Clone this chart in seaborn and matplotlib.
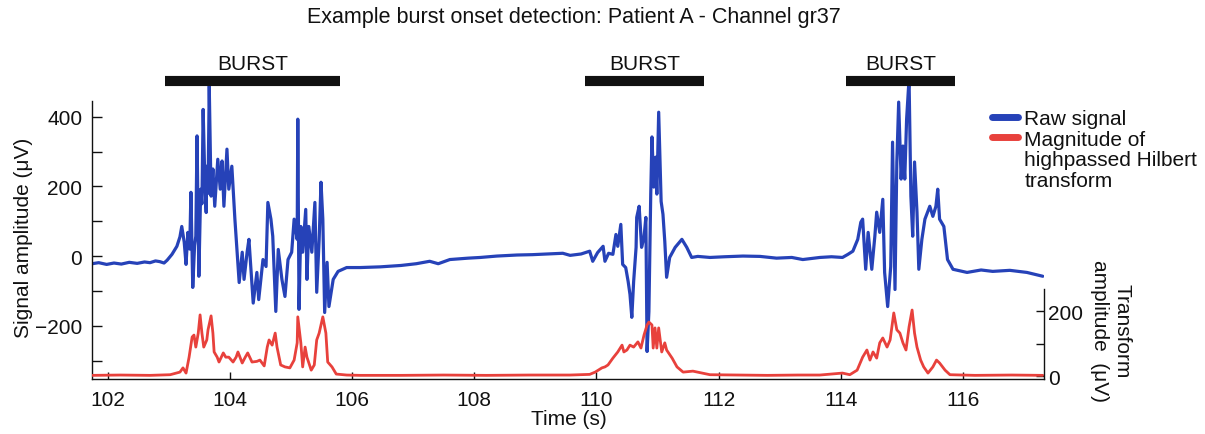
import numpy as np
import pandas as pd
import matplotlib
matplotlib.use("Agg")
import matplotlib.pyplot as plt
import matplotlib.transforms as mtransforms
from matplotlib.lines import Line2D
import seaborn as sns

# ---------------- data ----------------
raw_t = [101.74, 101.85, 101.98, 102.10, 102.22, 102.35, 102.48, 102.60, 102.69, 102.78,
         102.85, 102.92, 102.97, 103.05, 103.13, 103.18, 103.21, 103.25, 103.28, 103.31,
         103.34, 103.36, 103.39, 103.42, 103.44, 103.46, 103.49, 103.52, 103.54, 103.56,
         103.59, 103.61, 103.62, 103.64, 103.66, 103.69, 103.72, 103.75, 103.80, 103.84,
         103.87, 103.90, 103.95, 103.98, 104.03, 104.08, 104.11, 104.15, 104.20, 104.23,
         104.28, 104.31, 104.34, 104.38, 104.44, 104.47, 104.54, 104.59, 104.62, 104.67,
         104.70, 104.75, 104.79, 104.85, 104.90, 104.95, 105.01, 105.05, 105.10, 105.11,
         105.13, 105.16, 105.19, 105.24, 105.26, 105.29, 105.34, 105.39, 105.42, 105.46,
         105.49, 105.52, 105.55, 105.59, 105.62, 105.69, 105.77, 105.91, 106.13, 106.46,
         106.80, 107.05, 107.27, 107.41, 107.60, 107.90, 108.10, 108.37, 108.70, 108.95,
         109.20, 109.45, 109.57, 109.75, 109.89, 109.94, 110.02, 110.11, 110.14, 110.20,
         110.27, 110.32, 110.35, 110.40, 110.43, 110.48, 110.52, 110.55, 110.58, 110.61,
         110.65, 110.66, 110.70, 110.74, 110.78, 110.81, 110.83, 110.86, 110.89, 110.91,
         110.94, 110.97, 110.99, 111.02, 111.06, 111.09, 111.12, 111.15, 111.20, 111.29,
         111.40, 111.48, 111.56, 111.66, 111.86, 112.10, 112.40, 112.68, 112.95, 113.20,
         113.38, 113.66, 113.85, 114.03, 114.12, 114.20, 114.28, 114.33, 114.36, 114.41,
         114.45, 114.51, 114.56, 114.59, 114.64, 114.69, 114.72, 114.77, 114.82, 114.85,
         114.89, 114.92, 114.95, 114.99, 115.02, 115.05, 115.08, 115.12, 115.15, 115.18,
         115.21, 115.25, 115.28, 115.33, 115.38, 115.46, 115.51, 115.56, 115.59, 115.62,
         115.69, 115.75, 115.84, 116.07, 116.30, 116.49, 116.77, 117.05, 117.31]
raw_v = [-22, -19, -24, -20, -23, -18, -21, -17, -19, -14,
         -16, -20, -12, 5, 28, 55, 85, 40, -24, 68,
         20, 183, -90, 30, 57, 345, -58, 192, 150, 421,
         200, 125, 258, 180, 488, 172, 250, 143, 278, 192,
         273, 143, 307, 192, 258, 106, 28, -76, 11, -67,
         11, 48, -30, -135, -47, -125, -10, -30, 154, 106,
         57, -159, 19, -67, -116, -10, 11, 106, 48, 393,
         -153, 85, 11, 134, -67, 85, 11, 154, -104, 48,
         212, 106, -162, -18, -145, -67, -44, -33, -33, -31,
         -27, -22, -15, -22, -10, -6, -4, 0, 3, 4,
         6, 8, 2, 6, 14, -15, 10, 28, -15, 8,
         5, 62, 28, 91, -24, -33, -73, -110, -176, -73,
         25, 111, 143, 25, 54, 111, -274, -159, 178, 342,
         198, 284, 178, 413, 157, 120, 42, -61, -4, 25,
         48, 25, -4, -1, -4, -2, 0, -1, -6, -4,
         -10, -4, -2, -4, 5, 14, 48, 97, 106, -38,
         68, -38, 57, 126, 68, 163, -47, -145, -30, 327,
         -96, 270, 442, 221, 316, 221, 393, 509, 172, 57,
         270, 126, -38, 48, 106, 143, 114, 143, 192, 106,
         85, -10, -38, -47, -40, -44, -41, -47, -58]

hil_t = [101.74, 102.20, 102.69, 103.02, 103.18, 103.23, 103.28, 103.33, 103.38, 103.41,
         103.44, 103.48, 103.51, 103.54, 103.57, 103.62, 103.64, 103.69, 103.72, 103.74,
         103.79, 103.82, 103.89, 103.93, 103.98, 104.05, 104.10, 104.13, 104.20, 104.25,
         104.29, 104.36, 104.44, 104.49, 104.56, 104.61, 104.64, 104.69, 104.74, 104.77,
         104.83, 104.90, 104.98, 105.05, 105.10, 105.11, 105.16, 105.19, 105.23, 105.26,
         105.33, 105.38, 105.42, 105.46, 105.52, 105.57, 105.60, 105.67, 105.74, 105.91,
         106.13, 106.80, 107.50, 108.20, 108.90, 109.57, 109.89, 109.98, 110.09, 110.14,
         110.19, 110.27, 110.35, 110.42, 110.45, 110.50, 110.55, 110.61, 110.68, 110.73,
         110.78, 110.83, 110.86, 110.91, 110.93, 110.96, 110.99, 111.02, 111.07, 111.12,
         111.15, 111.24, 111.32, 111.42, 111.58, 111.86, 112.30, 112.80, 113.30, 113.66,
         114.03, 114.15, 114.27, 114.36, 114.43, 114.48, 114.53, 114.59, 114.64, 114.69,
         114.76, 114.81, 114.87, 114.92, 114.97, 115.02, 115.07, 115.12, 115.17, 115.21,
         115.25, 115.31, 115.36, 115.43, 115.51, 115.57, 115.62, 115.71, 115.79, 116.20,
         116.80, 117.31]
hil_v = [2, 3, 2, 4, 12, 25, 9, 58, 120, 126,
         89, 132, 188, 132, 89, 111, 142, 185, 132, 74,
         58, 43, 71, 58, 58, 43, 58, 74, 40, 58,
         71, 43, 45, 49, 31, 89, 111, 95, 132, 89,
         34, 28, 25, 49, 102, 182, 102, 28, 89, 58,
         18, 34, 111, 132, 182, 132, 43, 28, 6, 3,
         2, 2, 3, 2, 3, 3, 5, 12, 25, 28,
         34, 55, 74, 95, 74, 80, 95, 89, 105, 86,
         126, 157, 166, 157, 86, 148, 86, 148, 74, 102,
         80, 55, 28, 12, 15, 4, 3, 2, 3, 3,
         9, 4, 18, 58, 80, 49, 74, 55, 102, 117,
         89, 111, 194, 142, 132, 102, 80, 151, 203, 132,
         89, 49, 28, 9, 28, 49, 40, 18, 4, 2,
         3, 2]

burst_start = [102.94, 109.81, 114.08]
burst_end = [105.80, 111.76, 115.88]
burst_label = "BURST"

x_ticks = [102, 104, 106, 108, 110, 112, 114, 116]
y_major = [-200, 0, 200, 400]
y_minor = [-300, -100, 100, 300]
y2_ticks = [0, 100, 200]
y2_labels = ["0", "", "200"]

title = "Example burst onset detection: Patient A - Channel gr37"
legend_raw = "Raw signal"
legend_hil_lines = ["Magnitude of", "highpassed Hilbert", "transform"]

BLUE = "#2642b8"
RED = "#e8413c"
FS = 15

# ---------------- style ----------------
sns.set_theme(style="white")
plt.rcParams["font.family"] = ["Liberation Sans", "DejaVu Sans"]
plt.rcParams["text.color"] = "#111111"
plt.rcParams["axes.labelcolor"] = "#111111"
plt.rcParams["xtick.color"] = "#111111"
plt.rcParams["ytick.color"] = "#111111"

W, H = 1205, 435
fig = plt.figure(figsize=(W / 100, H / 100), dpi=100)
ax = fig.add_axes([92 / W, 55 / H, 952 / W, 303 / H])

df_raw = pd.DataFrame({"t": raw_t, "v": raw_v})
df_hil = pd.DataFrame({"t": hil_t, "v": hil_v})

sns.lineplot(data=df_raw, x="t", y="v", ax=ax, color=BLUE, linewidth=2.3,
             estimator=None, sort=False, legend=False)
ax.set_xlim(101.74, 117.33)
ax.set_ylim(-353, 517)

ax2 = ax.twinx()
sns.lineplot(data=df_hil, x="t", y="v", ax=ax2, color=RED, linewidth=2.0,
             estimator=None, sort=False, legend=False)
ax2.set_ylim(-9.2, 923)
ax2.set_xlim(101.74, 117.33)

# spines
for s in ["top", "right"]:
    ax.spines[s].set_visible(False)
for s in ["top", "left", "bottom"]:
    ax2.spines[s].set_visible(False)
ax.spines["left"].set_bounds(-353, 445)
ax2.spines["right"].set_bounds(-9.2, 268)
for sp in [ax.spines["left"], ax.spines["bottom"], ax2.spines["right"]]:
    sp.set_color("#111111")
    sp.set_linewidth(1.0)

# ticks
ax.set_xticks(x_ticks)
ax.set_xticklabels([str(v) for v in x_ticks])
ax.set_yticks(y_major)
ax.set_yticklabels([str(v).replace("-", "\u2212") for v in y_major])
ax.set_yticks(y_minor, minor=True)
ax.tick_params(axis="x", which="both", bottom=True, direction="in", length=5,
               width=1, labelsize=FS, pad=8)
ax.tick_params(axis="y", which="both", left=True, direction="in", length=7,
               width=1, labelsize=FS, pad=7)
ax2.set_yticks(y2_ticks)
ax2.set_yticklabels(y2_labels)
ax2.tick_params(axis="y", which="both", right=True, direction="in", length=6,
                width=1, labelsize=FS, pad=3)

ax.set_xlabel("Time (s)", fontsize=FS)
ax.xaxis.set_label_coords(0.501, -0.10)
ax.set_ylabel("Signal amplitude (\u03bcV)", fontsize=FS)
ax.yaxis.set_label_coords(-0.062, 0.469)
ax2.set_ylabel("")

fig.text(1111 / W, 1 - 331 / H, "Transform\namplitude  (\u03bcV)", rotation=270,
         ha="center", va="center", multialignment="center", fontsize=FS)

# burst bars
trans = mtransforms.blended_transform_factory(ax.transData, ax.transAxes)
for s, e in zip(burst_start, burst_end):
    ax.plot([s, e], [0.9835, 0.9835], transform=trans, color="#111111",
            linewidth=7.3, solid_capstyle="butt", clip_on=False)
    ax.text((s + e) / 2, 1.04, burst_label, transform=trans, ha="center",
            va="center", fontsize=FS)

# title
fig.text(574 / W, 1 - 18 / H, title, ha="center", va="center", fontsize=15.5)

# legend (multi-line label: handle aligned with its first line)
handles = [Line2D([], [], color=BLUE, linewidth=5),
           Line2D([], [], color=RED, linewidth=5),
           Line2D([], [], linestyle="none"),
           Line2D([], [], linestyle="none")]
labels = [legend_raw] + legend_hil_lines
fig.legend(handles, labels, loc="upper left",
           bbox_to_anchor=(992 / W, 1 - 110 / H), bbox_transform=fig.transFigure,
           frameon=False, fontsize=FS, handlelength=1.25, handletextpad=0.3,
           borderpad=0, borderaxespad=0, labelspacing=0.08)

fig.savefig("out.png", dpi=100)
